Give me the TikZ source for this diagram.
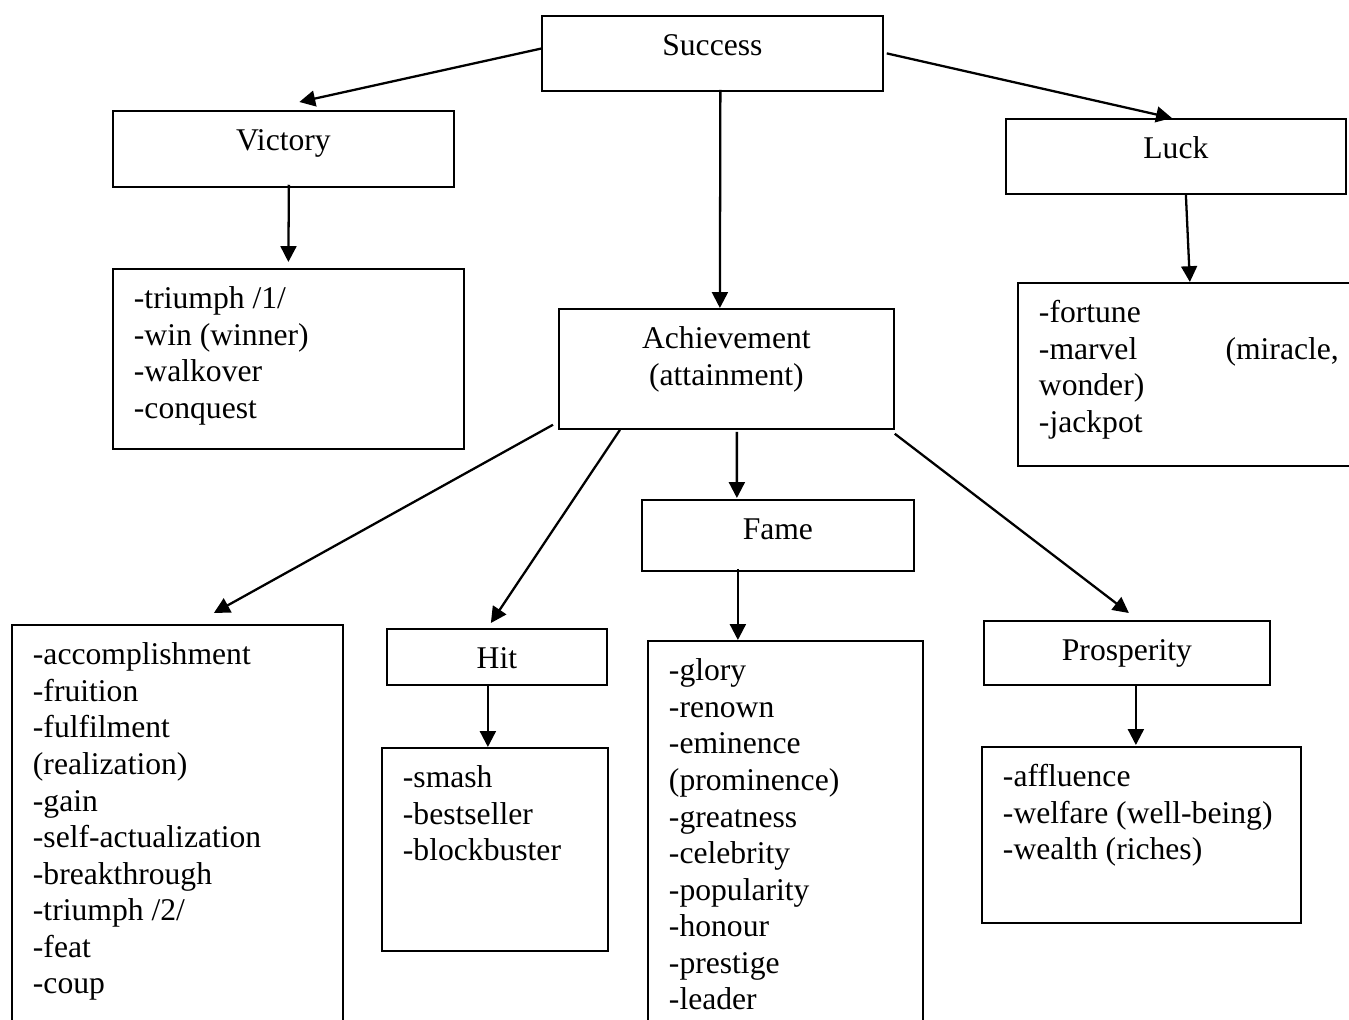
\documentclass[tikz,border=0pt]{standalone}
\usepackage{fontspec}
\setmainfont{Liberation Serif}
\usepackage{tikz}
\usetikzlibrary{arrows.meta,positioning,calc}

% one unit of the picture = one pixel of the page
\newlength\pxu
\setlength\pxu{0.02cm}
\newcommand{\cell}[3]{\parbox[t][\dimexpr#2\pxu-16.4pt\relax][t]{\dimexpr#1\pxu-24pt\relax}{\strut#3}}

\begin{document}
\begin{tikzpicture}[
  x=0.02cm, y=-0.02cm,
  wbox/.style={draw, line width=1pt, anchor=north west,
    inner xsep=12pt, inner ysep=8.2pt, font=\fontsize{18}{20.8}\selectfont},
  link/.style={-{Triangle[length=9pt,width=9pt]}, line width=1.3pt}
]
\useasboundingbox (0,0) rectangle (1349,1020);

% headings
\node[wbox] (succ) at (541,15)  {\cell{341}{75}{\centering Success}};
\node[wbox] (vict) at (112,110) {\cell{341}{76}{\centering Victory}};
\node[wbox] (luck) at (1005,118) {\cell{340}{75}{\centering Luck}};
\node[wbox] (ach)  at (558,308) {\cell{335}{120}{\centering Achievement\\(attainment)}};
\node[wbox] (fame) at (641,499) {\cell{272}{71}{\centering Fame}};
\node[wbox] (hit)  at (386,628) {\cell{220}{56}{\centering Hit}};
\node[wbox] (prosp) at (983,620) {\cell{286}{64}{\centering Prosperity}};

% word lists
\node[wbox] (vlist) at (112,268) {\cell{351}{180}{-triumph /1/\\-win (winner)\\-walkover\\-conquest}};
\node[wbox] (llist) at (1017,282) {\cell{342}{183}{-fortune\\-marvel\hfill(miracle,\\wonder)\\-jackpot}};
\node[wbox] (alist) at (11,624) {\cell{331}{420}{-accomplishment\\-fruition\\-fulfilment\\(realization)\\-gain\\-self-actualization\\-breakthrough\\-triumph /2/\\-feat\\-coup}};
\node[wbox] (hlist) at (381,747) {\cell{226}{203}{-smash\\-bestseller\\-blockbuster}};
\node[wbox] (flist) at (647,640) {\cell{275}{400}{-glory\\-renown\\-eminence\\(prominence)\\-greatness\\-celebrity\\-popularity\\-honour\\-prestige\\-leader}};
\node[wbox] (plist) at (981,746) {\cell{319}{176}{-affluence\\-welfare (well-being)\\-wealth (riches)}};

% arrows
\draw[link] ([shift={(1,-5)}]succ.west) -- ([shift={(16,-8)}]vict.north);
\draw[link] ([shift={(3,0)}]succ.east) -- ([shift={(-4,0)}]luck.north);
\draw[link] ([shift={(8,-2)}]succ.south) -- ([shift={(-6.5,0)}]ach.north);
\draw[link] ([shift={(5.5,-3)}]vict.south) -- ([shift={(0,-6)}]vlist.north);
\draw[link] ([shift={(10,0)}]luck.south) -- ([shift={(1,0)}]llist.north);
\draw[link] ([shift={(-5,-5)}]ach.south west) -- ([shift={(36.5,-11)}]alist.north);
\draw[link] ([shift={(62,0)}]ach.south west) -- ([shift={(-6,-5)}]hit.north);
\draw[link] ([shift={(10.5,2)}]ach.south) -- ([shift={(-41,-1)}]fame.north);
\draw[link] ([shift={(0,4)}]ach.south east) -- ([shift={(2,-7)}]prosp.north);
\draw[link] ([shift={(-40,-3)}]fame.south) -- ([shift={(-47.5,0)}]flist.north);
\draw[link] ([shift={(-9,0)}]hit.south) -- ([shift={(-7,0)}]hlist.north);
\draw[link] ([shift={(9,0)}]prosp.south) -- ([shift={(-5.5,-1)}]plist.north);
\end{tikzpicture}
\end{document}
